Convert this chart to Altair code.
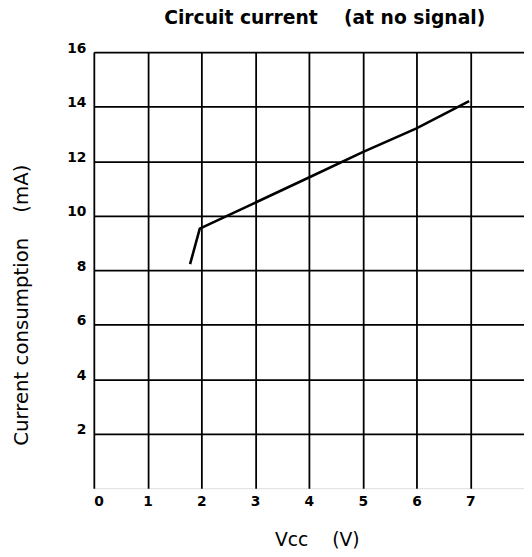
import altair as alt
import pandas as pd

vcc = [1.79, 1.97, 4.0, 5.0, 6.0, 6.98]
current = [8.22, 9.52, 11.4, 12.33, 13.2, 14.2]

x_ticks = [0, 1, 2, 3, 4, 5, 6, 7]
y_ticks = [2, 4, 6, 8, 10, 12, 14, 16]

GAP = "\u00a0" * 4
title_text = "Circuit current" + GAP + "(at no signal)"
x_title = "Vcc" + GAP + "(V)"
y_title = "Current consumption" + GAP + "(mA)"

df = pd.DataFrame({"vcc": vcc, "current": current})

FONT = "DejaVu Sans"

line = alt.Chart(df).mark_line(color="black", strokeWidth=2.6).encode(
    x=alt.X(
        "vcc:Q",
        scale=alt.Scale(domain=[0, 8], nice=False, zero=False),
        axis=alt.Axis(
            values=x_ticks,
            grid=True,
            gridColor="black",
            gridWidth=1.8,
            gridOpacity=1,
            domain=False,
            ticks=False,
            labelFont=FONT,
            labelFontWeight="bold",
            labelFontSize=14,
            labelColor="black",
            labelPadding=7,
            title=x_title,
            titleFont=FONT,
            titleFontWeight="normal",
            titleFontSize=19,
            titleColor="black",
            titleX=226,
            titleY=58,
            titleAlign="center",
            titleBaseline="alphabetic",
        ),
    ),
    y=alt.Y(
        "current:Q",
        scale=alt.Scale(domain=[0, 16], nice=False, zero=False),
        axis=alt.Axis(
            values=y_ticks,
            grid=True,
            gridColor="black",
            gridWidth=1.8,
            gridOpacity=1,
            domain=False,
            ticks=False,
            labelFont=FONT,
            labelFontWeight="bold",
            labelFontSize=14,
            labelColor="black",
            labelPadding=8,
            labelOffset=-4,
            title=y_title,
            titleFont=FONT,
            titleFontWeight="normal",
            titleFontSize=20,
            titleColor="black",
            titleAngle=-90,
            titleX=-67,
            titleY=256,
            titleAlign="center",
            titleBaseline="alphabetic",
        ),
    ),
)

chart = line.properties(
    width=436,
    height=442,
    autosize=alt.AutoSizeParams(type="none"),
    padding={"left": 87, "top": 41, "right": 0, "bottom": 62},
    title=alt.TitleParams(
        text=title_text,
        font=FONT,
        fontSize=19,
        fontWeight="bold",
        color="black",
        anchor="middle",
        frame="group",
        baseline="alphabetic",
        offset=12,
        dx=16,
        dy=14,
    ),
).configure_view(
    stroke="black",
    strokeWidth=2,
).configure(background="white")

chart.save("out.html", embed_options={"renderer": "svg", "actions": False})
